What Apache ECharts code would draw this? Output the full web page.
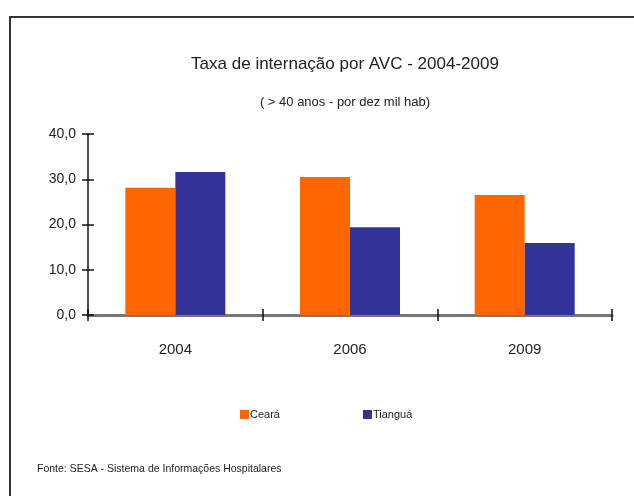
<!DOCTYPE html>
<html>
<head>
    <meta charset="UTF-8">
    <title>Taxa de internação por AVC</title>
    <style>
        html, body { margin: 0; padding: 0; background: #fff; }
        #chart { width: 634px; height: 496px; }
    </style>
    <script src="https://cdn.jsdelivr.net/npm/echarts@6/dist/echarts.min.js"></script>
</head>
<body>
<div id="chart"></div>
<script>
    // data
    let years = ['2004', '2006', '2009'];
    let ceara = [28.1, 30.5, 26.5];
    let tiangua = [31.6, 19.4, 15.9];
    let yTicks = [0, 10, 20, 30, 40];

    let chart = echarts.init(document.getElementById('chart'), null, {renderer: 'canvas'});
    let font = 'Arial, "Liberation Sans", sans-serif';

    let option = {
        animation: false,
        backgroundColor: '#fff',
        title: [
            {
                text: 'Taxa de internação por AVC - 2004-2009',
                left: 340, top: 51, textAlign: 'center',
                textStyle: {fontFamily: font, fontSize: 17, fontWeight: 'normal', color: '#222'}
            },
            {
                text: '( > 40 anos - por dez mil hab)',
                left: 340, top: 91, textAlign: 'center',
                textStyle: {fontFamily: font, fontSize: 13, fontWeight: 'normal', color: '#222'}
            },
            {
                text: 'Fonte: SESA - Sistema de Informações Hospitalares',
                left: 32, top: 459,
                textStyle: {fontFamily: font, fontSize: 10.5, fontWeight: 'normal', color: '#222'}
            }
        ],
        legend: {
            data: ['Ceará', 'Tianguá'],
            left: 235, top: 404,
            itemWidth: 9, itemHeight: 9, itemGap: 83,
            icon: 'rect',
            textStyle: {fontFamily: font, fontSize: 11, color: '#222', padding: [0, 0, 0, -4]}
        },
        grid: {left: 88, right: 22, top: 134, bottom: 181, containLabel: false},
        xAxis: [
            {
                type: 'category', data: years,
                axisLine: {lineStyle: {color: '#777', width: 3}},
                axisTick: {show: true, length: 6, lineStyle: {color: '#111', width: 1.5}},
                axisLabel: {fontFamily: font, fontSize: 15, color: '#222', margin: 27}
            },
            {
                type: 'category', data: years, position: 'bottom',
                axisLine: {show: false},
                axisTick: {show: true, inside: true, length: 6, lineStyle: {color: '#111', width: 1.5}},
                axisLabel: {show: false}
            }
        ],
        yAxis: [
            {
                type: 'value', min: 0, max: 40, interval: 10,
                axisLine: {show: true, lineStyle: {color: '#111', width: 1.5}},
                axisTick: {show: true, length: 6, lineStyle: {color: '#111', width: 1.5}},
                splitLine: {show: false},
                axisLabel: {
                    fontFamily: font, fontSize: 14, color: '#222', margin: 12,
                    formatter: v => yTicks.includes(v) ? v.toFixed(1).replace('.', ',') : ''
                }
            },
            {
                type: 'value', min: 0, max: 40, interval: 10, position: 'left',
                axisLine: {show: false},
                axisTick: {show: true, inside: true, length: 6, lineStyle: {color: '#111', width: 1.5}},
                splitLine: {show: false},
                axisLabel: {show: false}
            }
        ],
        series: [
            {
                name: 'Ceará', type: 'bar', data: ceara,
                barWidth: 50, barGap: '0%',
                itemStyle: {color: '#FF6600'}
            },
            {
                name: 'Tianguá', type: 'bar', data: tiangua,
                barWidth: 50, barGap: '0%',
                itemStyle: {color: '#333399'}
            }
        ],
        graphic: [
            {
                type: 'polyline',
                shape: {points: [[10, 496], [10, 17], [634, 17]]},
                style: {stroke: '#333', lineWidth: 2, fill: null}
            }
        ]
    };
    chart.setOption(option);
</script>
</body>
</html>
